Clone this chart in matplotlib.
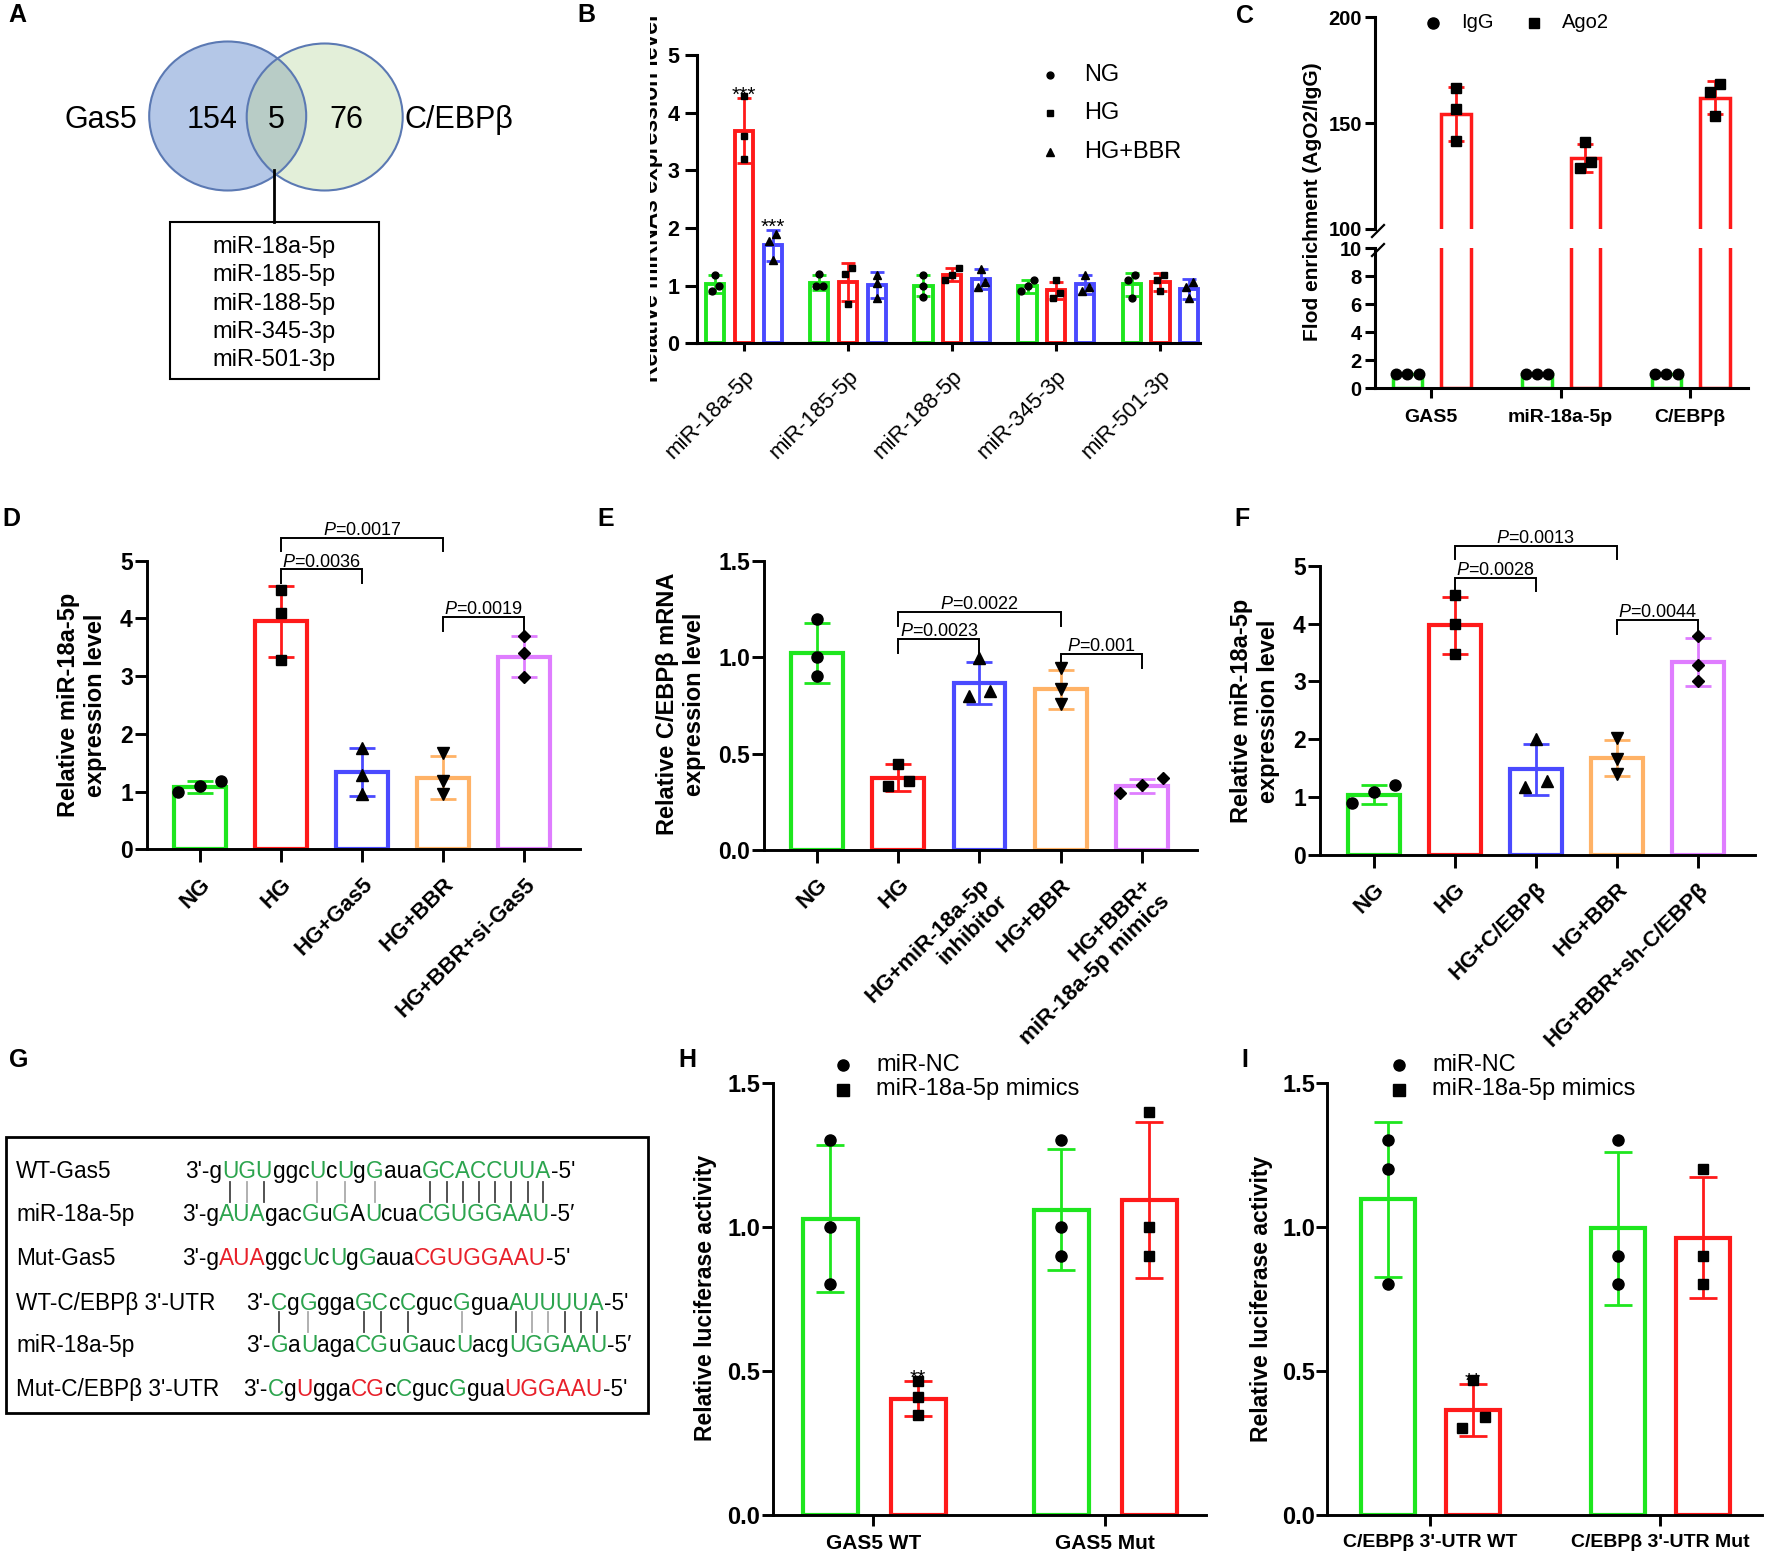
import matplotlib
matplotlib.use('Agg')
import matplotlib.pyplot as plt
from matplotlib.patches import Ellipse, Rectangle
from matplotlib.transforms import Bbox
import numpy as np

plt.rcParams['font.family'] = ['Liberation Sans', 'DejaVu Sans']
plt.rcParams['mathtext.fontset'] = 'custom'
plt.rcParams['mathtext.rm'] = 'Liberation Sans'
plt.rcParams['mathtext.it'] = 'Liberation Sans:italic'

# ---------------- data ----------------
# A: overlap of predicted miRNAs
venn_names = ['Gas5', 'C/EBPβ']
venn_counts = [154, 5, 76]
shared_mirs = ['miR-18a-5p', 'miR-185-5p', 'miR-188-5p', 'miR-345-3p', 'miR-501-3p']

# B: candidate miRNA levels
b_mirs = ['miR-18a-5p', 'miR-185-5p', 'miR-188-5p', 'miR-345-3p', 'miR-501-3p']
b_groups = ['NG', 'HG', 'HG+BBR']
b_ng_mean = [1.03, 1.05, 1.00, 0.99, 1.02]
b_ng_sd = [0.15, 0.13, 0.18, 0.11, 0.20]
b_ng_pts = [[1.19, 0.99, 0.90], [1.00, 1.20, 1.00], [1.19, 0.99, 0.81], [1.09, 0.90, 0.99], [1.19, 1.09, 0.78]]
b_hg_mean = [3.69, 1.06, 1.19, 0.92, 1.06]
b_hg_sd = [0.56, 0.33, 0.11, 0.15, 0.16]
b_hg_pts = [[4.29, 3.60, 3.19], [1.21, 1.30, 0.68], [1.30, 1.09, 1.19], [1.09, 0.78, 0.88], [1.09, 1.19, 0.90]]
b_bbr_mean = [1.70, 1.01, 1.11, 1.02, 0.94]
b_bbr_sd = [0.27, 0.22, 0.17, 0.16, 0.17]
b_bbr_pts = [[1.89, 1.78, 1.45], [1.19, 1.05, 0.78], [1.28, 1.07, 0.98], [1.18, 0.98, 0.90], [0.98, 1.07, 0.78]]
b_hg_stars = ['***', '', '', '', '']
b_bbr_stars = ['***', '', '', '', '']

# C: RIP
c_targets = ['GAS5', 'miR-18a-5p', 'C/EBPβ']
c_igg_mean = [1.0, 1.0, 1.0]
c_igg_sd = [0.0, 0.0, 0.0]
c_igg_pts = [[1.0, 1.0, 1.0], [1.0, 1.0, 1.0], [1.0, 1.0, 1.0]]
c_ago2_mean = [154.4, 133.5, 162.1]
c_ago2_sd = [12.6, 6.5, 7.9]
c_ago2_pts = [[166.5, 156.6, 141.4], [140.9, 131.6, 128.8], [168.6, 164.5, 153.6]]

# D
d_groups = ['NG', 'HG', 'HG+Gas5', 'HG+BBR', 'HG+BBR+si-Gas5']
d_mean = [1.08, 3.95, 1.34, 1.24, 3.34]
d_sd = [0.11, 0.62, 0.41, 0.37, 0.36]
d_pts = [[1.00, 1.19, 1.09], [4.49, 4.09, 3.28], [1.76, 1.28, 0.95], [1.67, 1.19, 0.95], [3.70, 3.40, 2.98]]
d_sig = [(1, 2, '0.0036', 4.85), (1, 3, '0.0017', 5.40), (3, 4, '0.0019', 4.02)]

# E
e_groups = ['NG', 'HG', 'HG+miR-18a-5p\ninhibitor', 'HG+BBR', 'HG+BBR+\nmiR-18a-5p mimics']
e_mean = [1.02, 0.375, 0.867, 0.833, 0.332]
e_sd = [0.155, 0.07, 0.11, 0.10, 0.037]
e_pts = [[1.20, 1.00, 0.90], [0.33, 0.446, 0.36], [0.80, 0.994, 0.826], [0.942, 0.833, 0.757], [0.297, 0.372, 0.337]]
e_sig = [(1, 2, '0.0023', 1.094), (1, 3, '0.0022', 1.236), (3, 4, '0.001', 1.016)]

# F
f_groups = ['NG', 'HG', 'HG+C/EBPβ', 'HG+BBR', 'HG+BBR+sh-C/EBPβ']
f_mean = [1.04, 3.97, 1.48, 1.67, 3.34]
f_sd = [0.17, 0.50, 0.44, 0.31, 0.41]
f_pts = [[1.20, 0.90, 1.09], [4.49, 3.99, 3.48], [2.00, 1.18, 1.28], [2.02, 1.66, 1.40], [3.79, 3.28, 3.00]]
f_sig = [(1, 2, '0.0028', 4.79), (1, 3, '0.0013', 5.35), (3, 4, '0.0044', 4.06)]

# G: binding sites (segment, colour code)
g_labels = ['WT-Gas5', 'miR-18a-5p', 'Mut-Gas5', "WT-C/EBPβ 3'-UTR", 'miR-18a-5p', "Mut-C/EBPβ 3'-UTR"]
g_rows = [
    [("3'-g", 'k'), ('UGU', 'g'), ('ggc', 'k'), ('U', 'g'), ('c', 'k'), ('U', 'g'), ('g', 'k'), ('G', 'g'),
     ('aua', 'k'), ('GCACCUUA', 'g'), ("-5'", 'k')],
    [("3'-g", 'k'), ('AUA', 'g'), ('gac', 'k'), ('G', 'g'), ('u', 'k'), ('G', 'g'), ('A', 'k'), ('U', 'g'),
     ('cua', 'k'), ('CGUGGAAU', 'g'), ('-5′', 'k')],
    [("3'-g", 'k'), ('AUA', 'r'), ('ggc', 'k'), ('U', 'g'), ('c', 'k'), ('U', 'g'), ('g', 'k'), ('G', 'g'),
     ('aua', 'k'), ('CGUGGAAU', 'r'), ("-5'", 'k')],
    [("3'-", 'k'), ('C', 'g'), ('g', 'k'), ('G', 'g'), ('gga', 'k'), ('GC', 'g'), ('c', 'k'), ('C', 'g'),
     ('guc', 'k'), ('G', 'g'), ('gua', 'k'), ('AUUUUA', 'g'), ("-5'", 'k')],
    [("3'-", 'k'), ('G', 'g'), ('a', 'k'), ('U', 'g'), ('aga', 'k'), ('CG', 'g'), ('u', 'k'), ('G', 'g'),
     ('auc', 'k'), ('U', 'g'), ('acg', 'k'), ('UGGAAU', 'g'), ('-5′', 'k')],
    [("3'-", 'k'), ('C', 'g'), ('g', 'k'), ('U', 'r'), ('gga', 'k'), ('CG', 'r'), ('c', 'k'), ('C', 'g'),
     ('guc', 'k'), ('G', 'g'), ('gua', 'k'), ('UGGAAU', 'r'), ("-5'", 'k')],
]
# paired nucleotide indices (after the 3'- prefix); wobble pairs drawn grey
g_pairs_gas5 = [1, 3, 15, 16, 17, 18, 19, 20, 21, 22]
g_wobble_gas5 = [2, 7, 9, 11]
g_pairs_cebp = [0, 6, 7, 9, 17, 20, 21, 22]
g_wobble_cebp = [2, 13, 18, 19]

# H / I: luciferase
h_sites = ['GAS5 WT', 'GAS5 Mut']
h_nc_mean = [1.028, 1.06]
h_nc_sd = [0.255, 0.21]
h_nc_pts = [[1.30, 1.00, 0.80], [1.30, 1.00, 0.90]]
h_mim_mean = [0.404, 1.094]
h_mim_sd = [0.062, 0.27]
h_mim_pts = [[0.465, 0.41, 0.346], [1.40, 1.00, 0.90]]
h_stars = ['**', '']

i_sites = ["C/EBPβ 3'-UTR WT", "C/EBPβ 3'-UTR Mut"]
i_nc_mean = [1.095, 0.995]
i_nc_sd = [0.27, 0.265]
i_nc_pts = [[1.30, 1.20, 0.80], [1.30, 0.90, 0.80]]
i_mim_mean = [0.364, 0.962]
i_mim_sd = [0.09, 0.21]
i_mim_pts = [[0.468, 0.30, 0.34], [1.20, 0.90, 0.80]]
i_stars = ['**', '']

# ---------------- style ----------------
GREEN = '#1ee61e'
RED = '#ff1a1a'
BLUE = '#4a4aff'
ORANGE = '#ffb266'
VIOLET = '#df7dff'
five_colors = [GREEN, RED, BLUE, ORANGE, VIOLET]
five_markers = ['o', 's', '^', 'v', 'D']
MS = {'o': 8, 's': 7.5, '^': 8.5, 'v': 8.5, 'D': 6.5}
SEQ_COL = {'k': 'black', 'g': '#2ca44e', 'r': '#e8202a'}

W, H = 1772, 1564
fig = plt.figure(figsize=(W / 100, H / 100), dpi=100)
ov = fig.add_axes([0, 0, 1, 1])
ov.set_xlim(0, W)
ov.set_ylim(H, 0)
ov.axis('off')


def px_axes(x0, y0, x1, y1):
    return fig.add_axes([x0 / W, 1 - y1 / H, (x1 - x0) / W, (y1 - y0) / H])


def style_axes(ax, lw=2.0, tlen=9):
    ax.spines['top'].set_visible(False)
    ax.spines['right'].set_visible(False)
    ax.spines['left'].set_linewidth(lw)
    ax.spines['bottom'].set_linewidth(lw)
    ax.tick_params(axis='both', width=lw, length=tlen, direction='out')
    ax.patch.set_alpha(0)


def spread(vals, thr, dx):
    # put overlapping points side by side, like a scatter-dot column
    v = np.asarray(vals, dtype=float)
    order = np.argsort(v)
    offs = np.zeros(len(v))
    groups = [[order[0]]]
    for a, b in zip(order[:-1], order[1:]):
        if v[b] - v[a] < thr:
            groups[-1].append(b)
        else:
            groups.append([b])
    for g in groups:
        n = len(g)
        for k, idx in enumerate(g):
            offs[idx] = (k - (n - 1) / 2) * dx
    return offs


def draw_bars(ax, xs, means, sds, pts, colors, markers, width, cap, ms_scale, thr, dx, blw=3.0, elw=2.0):
    for i in range(len(means)):
        ax.bar(xs[i], means[i], width=width, facecolor='none', edgecolor=colors[i],
               linewidth=blw, joinstyle='miter', zorder=2)
        ax.errorbar(xs[i], means[i], yerr=sds[i], fmt='none', ecolor=colors[i],
                    elinewidth=elw, capsize=cap, capthick=elw, zorder=3, clip_on=False)
        offs = spread(pts[i], thr, dx)
        ax.plot(xs[i] + offs, pts[i], ls='none', marker=markers[i], color='black',
                ms=MS[markers[i]] * ms_scale, zorder=4, clip_on=False)


def bracket(ax, i, j, y, leg, p):
    ax.plot([i, i, j, j], [y - leg, y, y, y - leg], color='black', lw=1.4,
            clip_on=False, solid_joinstyle='miter')
    ax.annotate('$P$=' + p, ((i + j) / 2, y), xytext=(0, 2), textcoords='offset points',
                ha='center', va='baseline', fontsize=13, annotation_clip=False)


def stars(ax, x, top, s):
    if s:
        ax.annotate(s, (x, top), xytext=(0, -2), textcoords='offset points',
                    ha='center', va='baseline', fontsize=15, annotation_clip=False)


def ylab(x, y, s, fs=17, **kw):
    return ov.text(x, y, s, rotation=90, ha='center', va='center', fontsize=fs,
                   fontweight='bold', multialignment='center', **kw)


# ---------------- panel letters ----------------
for lab, (x, y) in zip('ABCDEFGHI', [(17, 15), (586, 15), (1245, 16), (11, 519), (606, 519),
                                     (1242, 519), (19, 1060), (687, 1060), (1245, 1060)]):
    ov.text(x, y, lab, fontsize=18, fontweight='bold', ha='center', va='center')

# ---------------- A ----------------
e_left = Ellipse((227.7, 116), 157, 149, fc='#b4c7e7', ec='none')
e_right = Ellipse((324.7, 117), 156, 147, fc='#e3efd9', ec='none')
ov.add_patch(e_left)
ov.add_patch(e_right)
e_mid = Ellipse((324.7, 117), 156, 147, fc='#b8ccc6', ec='none')
ov.add_patch(e_mid)
e_mid.set_clip_path(e_left)
for cx, cy, w, h in [(227.7, 116, 157, 149), (324.7, 117, 156, 147)]:
    ov.add_patch(Ellipse((cx, cy), w, h, fill=False, ec='#5b79b3', lw=1.5))
ov.text(100.5, 128, venn_names[0], fontsize=22, ha='center', va='baseline')
ov.text(459, 128, venn_names[1], fontsize=22, ha='center', va='baseline')
for x, n in zip([212, 276, 346], venn_counts):
    ov.text(x, 128, str(n), fontsize=22, ha='center', va='baseline')
ov.plot([273.6, 273.6], [170, 222], color='black', lw=2)
ov.add_patch(Rectangle((170.3, 221.7), 208.6, 157.6, fill=False, ec='black', lw=1.5))
for k, m in enumerate(shared_mirs):
    ov.text(273.6, 247 + 28.3 * k, m, fontsize=17, ha='center', va='center')

# ---------------- B ----------------
axb = px_axes(696.6, 55, 1200, 343.3)
style_axes(axb, lw=2.2, tlen=8.5)
xb = np.arange(len(b_mirs))
b_off = [-0.277, 0.0, 0.277]
b_cols = [GREEN, RED, BLUE]
b_mk = ['o', 's', '^']
for k, (mn, sd, pt) in enumerate([(b_ng_mean, b_ng_sd, b_ng_pts), (b_hg_mean, b_hg_sd, b_hg_pts),
                                  (b_bbr_mean, b_bbr_sd, b_bbr_pts)]):
    draw_bars(axb, xb + b_off[k], mn, sd, pt, [b_cols[k]] * 5, [b_mk[k]] * 5, 0.175, 5, 0.62,
              0.12, 0.066, blw=2.8, elw=2.0)
for i in range(len(b_mirs)):
    stars(axb, xb[i] + b_off[1], b_hg_mean[i] + b_hg_sd[i], b_hg_stars[i])
    stars(axb, xb[i] + b_off[2], b_bbr_mean[i] + b_bbr_sd[i], b_bbr_stars[i])
axb.set_xlim(-0.456, 4.38)
axb.set_ylim(0, 5)
axb.set_yticks(range(6), [str(v) for v in range(6)], fontsize=15.5, fontweight='bold')
axb.set_xticks(xb, b_mirs, rotation=45, ha='right', rotation_mode='anchor', fontsize=16)
axb.tick_params(axis='x', pad=10, length=6)
axb.tick_params(axis='y', pad=4)
yb = ov.text(663, 198, 'Relative miRNAs expression level', rotation=90, ha='right', va='center',
             fontsize=16.5, fontweight='bold', clip_on=True)
yb.set_clip_path(None)
yb.set_clip_box(Bbox.from_extents(650, 0, 700, H))
for y, g, m in zip([75, 113, 152], b_groups, b_mk):
    ov.plot(1050.5, y, marker=m, color='black', ms=MS[m] * 0.62)
    ov.text(1084, y, g, fontsize=17, va='center')

# ---------------- C (broken axis) ----------------
xc = np.arange(len(c_targets))
axct = px_axes(1375, 17.3, 1748, 229)
axcb = px_axes(1375, 248, 1748, 388.3)
for a in (axct, axcb):
    style_axes(a, lw=2.2, tlen=7.5)
    a.set_xlim(-0.434, 2.448)
axct.spines['bottom'].set_visible(False)
axct.set_xticks([])
axct.set_ylim(100, 200)
axct.set_yticks([100, 150, 200], ['100', '150', '200'], fontsize=14.5, fontweight='bold')
axcb.set_ylim(0, 10)
axcb.set_yticks(range(0, 11, 2), [str(v) for v in range(0, 11, 2)], fontsize=14.5, fontweight='bold')
axcb.set_xticks(xc, c_targets, fontsize=14, fontweight='bold')
axcb.tick_params(axis='x', pad=7.5)
for a in (axct, axcb):
    a.tick_params(axis='y', pad=2)
draw_bars(axcb, xc - 0.183, c_igg_mean, c_igg_sd, c_igg_pts, [GREEN] * 3, ['o'] * 3, 0.228, 5.7, 0.95,
          0.5, 0.088, blw=2.5, elw=2.0)
axcb.bar(xc + 0.192, c_ago2_mean, width=0.228, facecolor='none', edgecolor=RED, linewidth=2.5, zorder=2)
draw_bars(axct, xc + 0.192, c_ago2_mean, c_ago2_sd, c_ago2_pts, [RED] * 3, ['s'] * 3, 0.228, 5.7, 1.0,
          5.0, 0.082, blw=2.5, elw=2.0)
for yy in (233, 252):
    ov.plot([1372, 1384], [yy + 4, yy - 8], color='black', lw=1.6)
ylab(1313, 202, 'Flod enrichment (AgO2/IgG)', fs=15)
ov.plot(1433, 23, marker='o', color='black', ms=8)
ov.text(1461, 23, 'IgG', fontsize=14.5, va='center')
ov.plot(1534, 23, marker='s', color='black', ms=7.5)
ov.text(1561.5, 23, 'Ago2', fontsize=14.5, va='center')


# ---------------- D / E / F ----------------
def five_panel(rect, groups, mean, sd, pts, sig, ylim, yt, ytl, xlim, leg, thr, label, label_xy):
    ax = px_axes(*rect)
    style_axes(ax, lw=2.1, tlen=9)
    x = np.arange(len(groups))
    draw_bars(ax, x, mean, sd, pts, five_colors, five_markers, 0.64, 9.6, 1.0, thr, 0.265,
              blw=3.0, elw=2.0)
    for i, j, p, y in sig:
        bracket(ax, i, j, y, leg, p)
    ax.set_xlim(*xlim)
    ax.set_ylim(*ylim)
    ax.set_yticks(yt, ytl, fontsize=16.5, fontweight='bold')
    ax.set_xticks(x, groups, rotation=45, ha='right', rotation_mode='anchor', fontsize=16,
                  fontweight='bold')
    ax.tick_params(axis='x', pad=8.5)
    ax.tick_params(axis='y', pad=1)
    ylab(label_xy[0], label_xy[1], label)
    return ax


five_panel((146.7, 560.7, 580, 849.3), d_groups, d_mean, d_sd, d_pts, d_sig, (0, 5), range(6),
           [str(v) for v in range(6)], (-0.657, 4.686), 0.23, 0.2,
           'Relative miR-18a-5p\nexpression level', (82, 705))
five_panel((764, 560.7, 1197, 850), e_groups, e_mean, e_sd, e_pts, e_sig, (0, 1.5), [0, 0.5, 1.0, 1.5],
           ['0.0', '0.5', '1.0', '1.5'], (-0.657, 4.682), 0.072, 0.06,
           'Relative C/EBPβ mRNA\nexpression level', (681, 704))
five_panel((1319.7, 566, 1754.5, 854.7), f_groups, f_mean, f_sd, f_pts, f_sig, (0, 5), range(6),
           [str(v) for v in range(6)], (-0.665, 4.697), 0.23, 0.2,
           'Relative miR-18a-5p\nexpression level', (1255, 711))

# ---------------- G ----------------
ov.add_patch(Rectangle((6.3, 1136.7), 641.7, 276.6, fill=False, ec='black', lw=2))
rend = fig.canvas.get_renderer()
SEQ_FS = 16.3


def text_w(s):
    if not s:
        return 0.0
    t = ov.text(0, 0, s, fontsize=SEQ_FS)
    w = t.get_window_extent(rend).width
    t.remove()
    return w


g_base = [1178, 1221, 1265, 1310, 1352, 1396]
g_start = [185.2, 181.8, 181.8, 246.2, 246.2, 243.3]
row_strings = []
for lab, segs, yb_, x0 in zip(g_labels, g_rows, g_base, g_start):
    ov.text(16, yb_, lab, fontsize=SEQ_FS, va='baseline')
    full = ''
    for s, c in segs:
        full += s
        xs = x0 + text_w(full) - text_w(s)
        ov.text(xs, yb_, s, fontsize=SEQ_FS, va='baseline', color=SEQ_COL[c])
    row_strings.append(full)


def char_center(row, k):
    s = row_strings[row]
    i = 3 + k
    return g_start[row] + text_w(s[:i + 1]) - text_w(s[i]) / 2


for row, strong, wob, (y0, y1) in [(0, g_pairs_gas5, g_wobble_gas5, (1182, 1202)),
                                   (3, g_pairs_cebp, g_wobble_cebp, (1312, 1332))]:
    for k in strong:
        xk = char_center(row, k)
        ov.plot([xk, xk], [y0, y1], color='#444444', lw=1.3)
    for k in wob:
        xk = char_center(row, k)
        ov.plot([xk, xk], [y0, y1], color='#aaaaaa', lw=1.3)


# ---------------- H / I ----------------
def luc_panel(rect, sites, nc_m, nc_s, nc_p, mi_m, mi_s, mi_p, st, xlim, offs, xfs, ylab_xy, leg_x):
    ax = px_axes(*rect)
    style_axes(ax, lw=2.1, tlen=8)
    x = np.arange(len(sites))
    draw_bars(ax, x + offs[0], nc_m, nc_s, nc_p, [GREEN] * 2, ['o'] * 2, 0.238, 10.3, 1.0, 0.045, 0.1,
              blw=3.0, elw=2.0)
    draw_bars(ax, x + offs[1], mi_m, mi_s, mi_p, [RED] * 2, ['s'] * 2, 0.238, 10.3, 1.05, 0.045, 0.1,
              blw=3.0, elw=2.0)
    for i in range(len(sites)):
        stars(ax, x[i] + offs[1], mi_m[i] + mi_s[i], st[i])
    ax.set_xlim(*xlim)
    ax.set_ylim(0, 1.5)
    ax.set_yticks([0, 0.5, 1.0, 1.5], ['0.0', '0.5', '1.0', '1.5'], fontsize=17, fontweight='bold')
    ax.set_xticks(x, sites, fontsize=xfs, fontweight='bold')
    ax.tick_params(axis='x', pad=6)
    ax.tick_params(axis='y', pad=1)
    ylab(ylab_xy[0], ylab_xy[1], 'Relative luciferase activity', fs=16.5)
    ov.plot(leg_x, 1065, marker='o', color='black', ms=8)
    ov.plot(leg_x, 1089.5, marker='s', color='black', ms=8)
    ov.text(leg_x + 33, 1065, 'miR-NC', fontsize=17, va='center')
    ov.text(leg_x + 33, 1089.5, 'miR-18a-5p mimics', fontsize=17, va='center')
    return ax


luc_panel((772.5, 1082.8, 1206, 1514.9), h_sites, h_nc_mean, h_nc_sd, h_nc_pts, h_mim_mean, h_mim_sd,
          h_mim_pts, h_stars, (-0.437, 1.439), (-0.187, 0.193), 15, (706, 1298), 843)
luc_panel((1327.4, 1082.8, 1762, 1514.9), i_sites, i_nc_mean, i_nc_sd, i_nc_pts, i_mim_mean, i_mim_sd,
          i_mim_pts, i_stars, (-0.446, 1.443), (-0.183, 0.187), 14, (1262, 1299), 1399.5)

fig.savefig('out.png', dpi=100)
